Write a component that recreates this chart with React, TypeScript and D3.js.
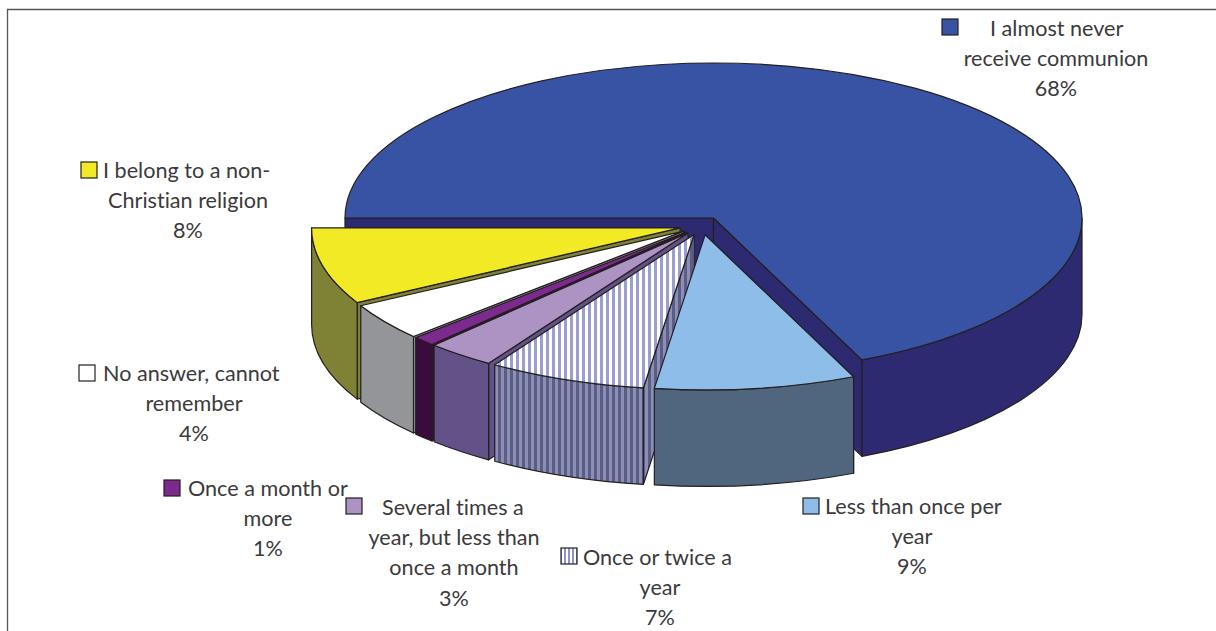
import React from "react";
import * as d3 from "d3";

const categories = [
  "I almost never receive communion",
  "Less than once per year",
  "Once or twice a year",
  "Several times a year, but less than once a month",
  "Once a month or more",
  "No answer, cannot remember",
  "I belong to a non-Christian religion",
];
const values = [68.4, 8.8, 6.9, 3, 1, 3.9, 8];
const labelLines = [
  ["I almost never", "receive communion", "68%"],
  ["Less than once per", "year", "9%"],
  ["Once or twice a", "year", "7%"],
  ["Several times a", "year, but less than", "once a month", "3%"],
  ["Once a month or", "more", "1%"],
  ["No answer, cannot", "remember", "4%"],
  ["I belong to a non-", "Christian religion", "8%"],
];
const topColors = ["#3953a4", "#8dbde8", "url(#stripeTop)", "#ad92c4", "#7d2a8e", "#ffffff", "#f2ea24"];
const sideColors = ["#2e2a72", "#50667f", "url(#stripeSide)", "#635287", "#3a0c3e", "#939598", "#7f8135"];
const keyColors = ["#3953a4", "#8dbde8", "url(#stripeKey)", "#ad92c4", "#7d2a8e", "#ffffff", "#f2ea24"];

// label layout: key corner, first-line start, centre of the remaining lines, first baseline
const keyX = [942, 803, 561, 346, 164, 79, 81];
const keyY = [19, 498, 548, 498, 480, 365, 162];
const firstX = [990, 825, 583, 382, 188, 103, 103];
const centerX = [1056, 912, 660, 454, 268, 194, 188];
const baseY = [36, 514, 565, 515, 496, 380.5, 178];

const cx = 713.5, cy = 218, rx = 368.5, ry = 155, depth = 96.5;
const groupCx = 702, groupCy = 225.6, groupRx = 22.6, groupRy = 9.4;
const stroke = "#231f20";

const pie = d3.pie<number>().sort(null).startAngle(Math.PI).endAngle(3 * Math.PI);
const arcs = pie(values);

const rim = (ox: number, oy: number, t: number): [number, number] => [ox + rx * Math.cos(t), oy + ry * Math.sin(t)];
const f = (n: number) => n.toFixed(2);

function topPath(ox: number, oy: number, a: number, b: number) {
  const p0 = rim(ox, oy, a), p1 = rim(ox, oy, b);
  const large = b - a > Math.PI ? 1 : 0;
  return `M${f(ox)},${f(oy)}L${f(p0[0])},${f(p0[1])}A${rx},${ry} 0 ${large} 1 ${f(p1[0])},${f(p1[1])}Z`;
}
function wallPath(ox: number, oy: number, t: number) {
  const p = rim(ox, oy, t);
  return `M${f(ox)},${f(oy)}L${f(p[0])},${f(p[1])}L${f(p[0])},${f(p[1] + depth)}L${f(ox)},${f(oy + depth)}Z`;
}
function sidePath(ox: number, oy: number, a: number, b: number) {
  const p0 = rim(ox, oy, a), p1 = rim(ox, oy, b);
  return `M${f(p0[0])},${f(p0[1])}A${rx},${ry} 0 0 1 ${f(p1[0])},${f(p1[1])}L${f(p1[0])},${f(p1[1] + depth)}A${rx},${ry} 0 0 0 ${f(p0[0])},${f(p0[1] + depth)}Z`;
}

export default function App() {
  const main = arcs[0];
  const mainEnd = main.endAngle - 2 * Math.PI;
  const common = { stroke, strokeWidth: 1.2, strokeLinejoin: "round" as const };
  return (
    <svg width={1216} height={631} style={{ position: "absolute", left: 0, top: 0, display: "block", background: "#fff", fontVariantLigatures: "none" }}
      fontFamily="Lato" fontSize={21.6} fill="#3b3a3c">
      <defs>
        <pattern id="stripeTop" width={6} height={6} patternUnits="userSpaceOnUse">
          <rect width={6} height={6} fill="#fff" />
          <rect width={3} height={6} fill="#9a9fcf" />
        </pattern>
        <pattern id="stripeSide" width={6} height={6} patternUnits="userSpaceOnUse">
          <rect width={6} height={6} fill="#8b8fb4" />
          <rect width={3} height={6} fill="#5a5d86" />
        </pattern>
        <pattern id="stripeKey" width={4} height={4} patternUnits="userSpaceOnUse">
          <rect width={4} height={4} fill="#fff" />
          <rect width={2} height={4} fill="#8d92cc" />
        </pattern>
      </defs>
      <path d="M7.5,631V9.5H1216" fill="none" stroke="#555" strokeWidth={1.3} />

      {/* main slice */}
      <path d={wallPath(cx, cy, main.startAngle)} fill={sideColors[0]} {...common} />
      <path d={wallPath(cx, cy, mainEnd)} fill={sideColors[0]} {...common} />
      <path d={sidePath(cx, cy, 0, mainEnd)} fill={sideColors[0]} {...common} />
      <path d={topPath(cx, cy, main.startAngle, main.endAngle)} fill={topColors[0]} {...common} />

      {/* detached slices, back to front */}
      {arcs.slice(1).reverse().map((arc) => {
        const i = arc.index;
        const m = (arc.startAngle + arc.endAngle) / 2;
        const ox = groupCx + groupRx * Math.cos(m);
        const oy = groupCy + groupRy * Math.sin(m);
        return (
          <g key={categories[i]}>
            <path d={wallPath(ox, oy, arc.startAngle)} fill={sideColors[i]} {...common} />
            <path d={sidePath(ox, oy, arc.startAngle, arc.endAngle)} fill={sideColors[i]} {...common} />
            <path d={topPath(ox, oy, arc.startAngle, arc.endAngle)} fill={topColors[i]} {...common} />
          </g>
        );
      })}

      {/* labels */}
      {labelLines.map((lines, i) => (
        <g key={categories[i]}>
          <rect x={keyX[i]} y={keyY[i]} width={16} height={16} fill={keyColors[i]} stroke={stroke} strokeWidth={1.2} />
          {lines.map((line, j) => (
            <text key={j} x={j === 0 ? firstX[i] : centerX[i]} y={baseY[i] + j * 30.2}
              textAnchor={j === 0 ? "start" : "middle"}>{line}</text>
          ))}
        </g>
      ))}
    </svg>
  );
}
